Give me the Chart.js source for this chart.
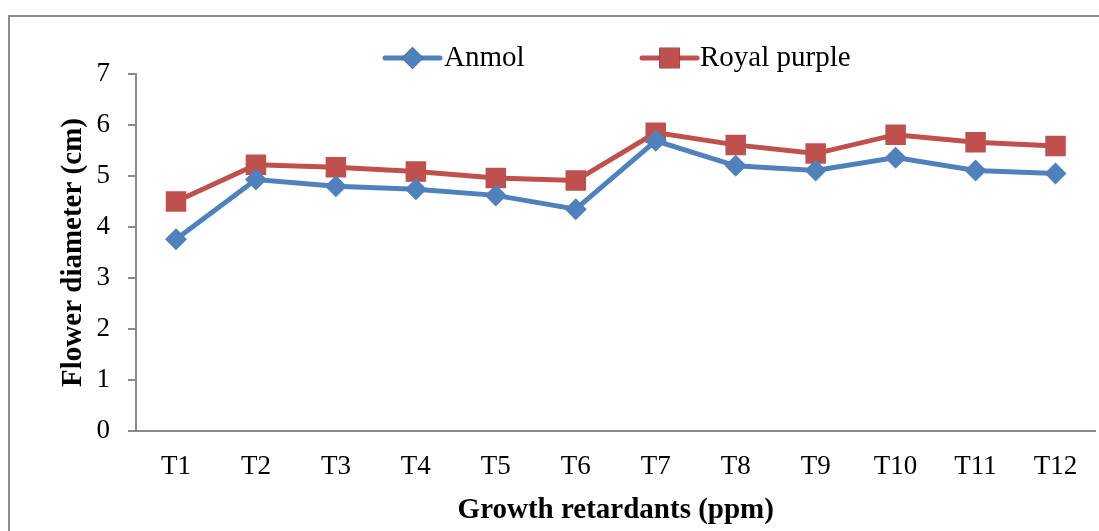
<!DOCTYPE html>
<html>
<head>
<meta charset="utf-8">
<script src="https://cdn.jsdelivr.net/npm/chart.js@4.4.1/dist/chart.umd.min.js"></script>
<style>
  html, body { margin: 0; padding: 0; background: #ffffff; overflow: hidden; }
  #wrap { width: 1099px; height: 531px; position: relative; overflow: hidden; }
  #c { position: absolute; left: 0; top: 0; }
</style>
</head>
<body>
<div id="wrap"><canvas id="c" width="1110" height="531"></canvas></div>
<script>
// ---- data ----
const categories = ['T1','T2','T3','T4','T5','T6','T7','T8','T9','T10','T11','T12'];
const anmol = [3.76, 4.93, 4.80, 4.74, 4.62, 4.35, 5.69, 5.20, 5.11, 5.36, 5.11, 5.05];
const royalPurple = [4.50, 5.22, 5.17, 5.09, 4.96, 4.91, 5.85, 5.61, 5.44, 5.81, 5.66, 5.59];
const seriesNames = ['Anmol', 'Royal purple'];
const yTicks = [0, 1, 2, 3, 4, 5, 6, 7];
const xTitle = 'Growth retardants (ppm)';
const yTitle = 'Flower diameter (cm)';

const BLUE = '#4F81BD';
const RED = '#C0504D';
const AXIS = '#8a8a8a';
const FONT = "'Liberation Serif', 'Times New Roman', serif";

const borderPlugin = {
  id: 'outerBorder',
  beforeDraw(chart) {
    const ctx = chart.ctx;
    ctx.save();
    ctx.fillStyle = '#ffffff';
    ctx.fillRect(0, 0, chart.width, chart.height);
    ctx.strokeStyle = '#8c8c8c';
    ctx.lineWidth = 2;
    ctx.strokeRect(9, 16, 2000, 2000);
    ctx.restore();
  }
};

const legendPlugin = {
  id: 'customLegend',
  afterDraw(chart) {
    const ctx = chart.ctx;
    const items = [
      { ds: 0, x1: 385, x2: 440, tx: 444 },
      { ds: 1, x1: 642, x2: 697, tx: 700 }
    ];
    const y = 58;
    ctx.save();
    items.forEach(it => {
      const ds = chart.data.datasets[it.ds];
      ctx.strokeStyle = ds.borderColor;
      ctx.lineWidth = 5;
      ctx.lineCap = 'round';
      ctx.beginPath();
      ctx.moveTo(it.x1, y);
      ctx.lineTo(it.x2, y);
      ctx.stroke();
      Chart.helpers.drawPoint(ctx, {
        pointStyle: ds.pointStyle,
        radius: ds.pointRadius,
        rotation: 0,
        borderWidth: 0
      }, (it.x1 + it.x2) / 2, y);
      ctx.fillStyle = ds.pointBackgroundColor;
      ctx.fill();
      ctx.fillStyle = '#000000';
      ctx.font = '29px ' + FONT;
      ctx.textBaseline = 'middle';
      ctx.textAlign = 'left';
      ctx.fillText(ds.label, it.tx, y);
    });
    ctx.restore();
  }
};

new Chart(document.getElementById('c'), {
  type: 'line',
  data: {
    labels: categories,
    datasets: [
      {
        label: seriesNames[0],
        data: anmol,
        borderColor: BLUE,
        backgroundColor: BLUE,
        pointBackgroundColor: BLUE,
        pointBorderColor: BLUE,
        borderWidth: 5,
        pointStyle: 'rectRot',
        pointRadius: 11,
        pointBorderWidth: 0,
        tension: 0
      },
      {
        label: seriesNames[1],
        data: royalPurple,
        borderColor: RED,
        backgroundColor: RED,
        pointBackgroundColor: RED,
        pointBorderColor: RED,
        borderWidth: 5,
        pointStyle: 'rect',
        pointRadius: 14.5,
        pointBorderWidth: 0,
        tension: 0
      }
    ]
  },
  options: {
    responsive: false,
    animation: false,
    layout: { padding: { left: 0, right: 3, top: 74, bottom: 0 } },
    plugins: {
      legend: { display: false },
      tooltip: { enabled: false }
    },
    scales: {
      x: {
        type: 'category',
        offset: true,
        grid: { display: false, drawTicks: false },
        border: { display: true, color: AXIS, width: 2 },
        ticks: { color: '#000', font: { family: FONT, size: 27 }, padding: 20, maxRotation: 0, autoSkip: false },
        title: { display: true, text: xTitle, color: '#000', font: { family: FONT, size: 29, weight: 'bold' }, padding: { top: 4, bottom: 3 } },
        afterFit(scale) { scale.height = 100; }
      },
      y: {
        min: 0,
        max: 7,
        afterBuildTicks(scale) { scale.ticks = yTicks.map(v => ({ value: v })); },
        grid: { display: true, drawOnChartArea: false, drawTicks: true, tickLength: 8, color: AXIS, lineWidth: 2 },
        border: { display: true, color: AXIS, width: 2 },
        ticks: { color: '#000', font: { family: FONT, size: 27 }, padding: 18 },
        title: { display: true, text: yTitle, color: '#000', font: { family: FONT, size: 29, weight: 'bold' }, padding: { top: 56, bottom: 0 } },
        afterFit(scale) { scale.width = 136; }
      }
    }
  },
  plugins: [borderPlugin, legendPlugin]
});
</script>
</body>
</html>
